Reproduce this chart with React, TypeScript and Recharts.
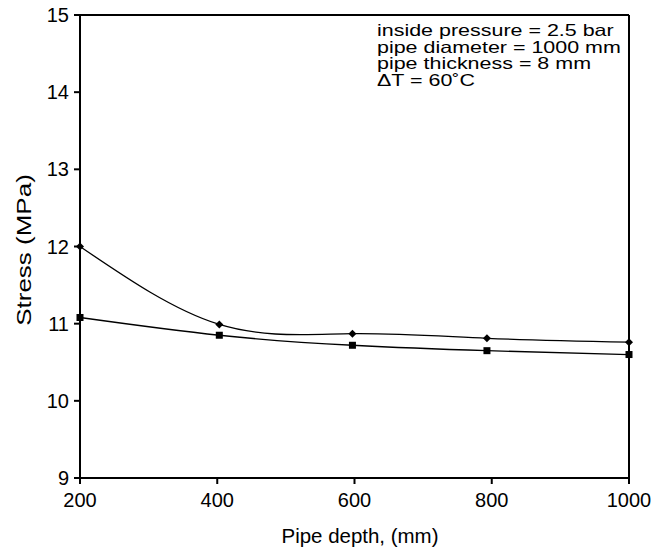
import React from "react";
import { LineChart, Line, XAxis, YAxis, ReferenceLine, Label } from "recharts";

const depths = [200, 403, 597, 793, 1000];
const stressDiamond = [12.0, 10.99, 10.87, 10.81, 10.76];
const stressSquare = [11.08, 10.85, 10.72, 10.65, 10.6];
const xTicks = [200, 400, 600, 800, 1000];
const yTicks = [9, 10, 11, 12, 13, 14, 15];
const noteLines = [
  "inside pressure = 2.5 bar",
  "pipe diameter = 1000 mm",
  "pipe thickness = 8 mm",
  "\u0394T = 60\u02DAC",
];

const data = depths.map((d, i) => ({ depth: d, a: stressDiamond[i], b: stressSquare[i] }));

const FONT = "'Liberation Sans', Arial, sans-serif";

const Diamond = (props: any) => {
  const { cx, cy } = props;
  if (cx == null || cy == null) return null;
  const r = 4;
  return (
    <path
      d={`M${cx},${cy - r}L${cx + r},${cy}L${cx},${cy + r}L${cx - r},${cy}Z`}
      fill="#000"
      stroke="none"
    />
  );
};

const Square = (props: any) => {
  const { cx, cy } = props;
  if (cx == null || cy == null) return null;
  const s = 3.5;
  return <rect x={cx - s} y={cy - s} width={2 * s} height={2 * s} fill="#000" stroke="none" />;
};

const XLabel = () => (
  <text
    x={360}
    y={543}
    textAnchor="middle"
    fill="#000"
    fontSize={19.5}
    fontFamily={FONT}
    transform="translate(360,543) scale(1.05,1) translate(-360,-543)"
  >
    Pipe depth, (mm)
  </text>
);

const YLabel = () => (
  <text
    x={0}
    y={0}
    dy="0.35em"
    textAnchor="middle"
    fill="#000"
    fontSize={20}
    fontFamily={FONT}
    transform="translate(24,250) rotate(-90) scale(1.3,1)"
  >
    Stress (MPa)
  </text>
);

export default function App() {
  return (
    <div style={{ position: "absolute", left: 0, top: 0, width: 670, height: 551, background: "#fff" }}>
      <LineChart
        width={670}
        height={551}
        data={data}
        margin={{ top: 15, right: 41, bottom: 0, left: 0 }}
      >
        <XAxis
          dataKey="depth"
          type="number"
          domain={[200, 1000]}
          ticks={xTicks}
          height={73}
          stroke="#000"
          strokeWidth={2}
          tickSize={6}
          tick={{ fill: "#000", fontSize: 20, fontFamily: FONT }}
          tickMargin={9}
        >
          <Label content={<XLabel />} />
        </XAxis>
        <YAxis
          type="number"
          domain={[9, 15]}
          ticks={yTicks}
          width={80}
          stroke="#000"
          strokeWidth={2}
          tickSize={6}
          tick={{ fill: "#000", fontSize: 20, fontFamily: FONT }}
          tickMargin={5}
        >
          <Label content={<YLabel />} />
        </YAxis>
        <ReferenceLine y={15} stroke="#000" strokeWidth={2} />
        <ReferenceLine x={1000} stroke="#000" strokeWidth={2} />
        <Line
          dataKey="a"
          type="natural"
          stroke="#000"
          strokeWidth={1.3}
          dot={<Diamond />}
          activeDot={false}
          isAnimationActive={false}
        />
        <Line
          dataKey="b"
          type="natural"
          stroke="#000"
          strokeWidth={1.3}
          dot={<Square />}
          activeDot={false}
          isAnimationActive={false}
        />
      </LineChart>
      <div
        style={{
          position: "absolute",
          left: 377,
          top: 22,
          fontFamily: FONT,
          fontSize: 16.5,
          lineHeight: "16.5px",
          color: "#000",
          whiteSpace: "pre",
          transform: "scaleX(1.3)",
          transformOrigin: "0 0",
        }}
      >
        {noteLines.map((t, i) => (
          <div key={i}>{t}</div>
        ))}
      </div>
    </div>
  );
}
